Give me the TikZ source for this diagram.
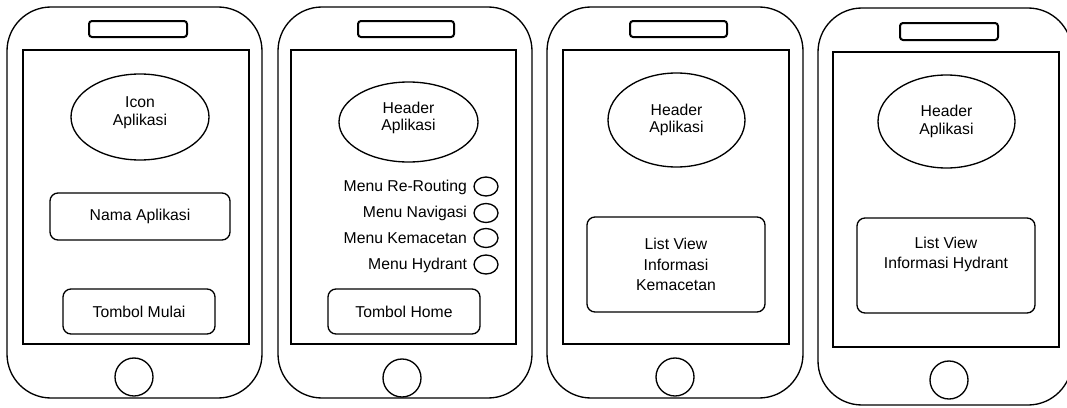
\documentclass[tikz,border=0pt]{standalone}
\usepackage{fontspec}
\setmainfont{Liberation Sans}
\usetikzlibrary{shapes.geometric}
\newdimen\pxu \pxu=0.75pt
\begin{document}
\begin{tikzpicture}[x=0.75pt,y=-0.75pt,
  every node/.style={inner sep=0pt, outer sep=0pt, font=\fontsize{11.8pt}{13pt}\selectfont, align=center},
  phonebody/.style={draw, line width=1pt, rounded corners=44*\pxu, minimum width=#1*\pxu},
  phonebody/.default=255,
  screenbox/.style={draw, line width=1.6pt, minimum height=294*\pxu},
  speaker/.style={draw, line width=1.5pt, rounded corners=3*\pxu, minimum height=16*\pxu},
  homebtn/.style={draw, circle, line width=1pt, minimum size=38*\pxu},
  elips/.style={draw, ellipse, line width=1pt},
  rbox/.style={draw, rectangle, rounded corners=8*\pxu, line width=1pt},
  menutxt/.style={anchor=east},
  radio/.style={draw, ellipse, line width=1pt, minimum width=24*\pxu, minimum height=19*\pxu}
]
\useasboundingbox (0,0) rectangle (1067,407);

% ---------- Phone 1 ----------
\node[phonebody=255, minimum height=391*\pxu] (p1) at (134.5,202.5) {};
\node[screenbox, minimum width=226*\pxu] (s1) at (136,197) {};
\node[speaker, minimum width=98*\pxu] (sp1) at (138,29) {};
\node[homebtn] (h1) at (134,377) {};
\node[elips, minimum width=138*\pxu, minimum height=86*\pxu] (e1) at (140,117) {Icon\\Aplikasi\\[-4pt]};
\node[rbox, minimum width=180*\pxu, minimum height=47*\pxu] (b1) at (140,216.5) {Nama Aplikasi};
\node[rbox, minimum width=152*\pxu, minimum height=45*\pxu] (t1) at (139,311.5) {Tombol Mulai};

% ---------- Phone 2 ----------
\node[phonebody=254, minimum height=391*\pxu] (p2) at (405,202.5) {};
\node[screenbox, minimum width=225*\pxu] (s2) at (403.5,197) {};
\node[speaker, minimum width=96*\pxu] (sp2) at (406,29) {};
\node[homebtn] (h2) at (402,378) {};
\node[elips, minimum width=139*\pxu, minimum height=80*\pxu] (e2) at (408.5,122) {Header\\Aplikasi\\[-4pt]};
\node[menutxt] (m1) at (467,187) {Menu Re-Routing};
\node[menutxt] (m2) at (467,213.5) {Menu Navigasi};
\node[menutxt] (m3) at (467,238.5) {Menu Kemacetan};
\node[menutxt] (m4) at (467,265) {Menu Hydrant};
\node[radio] (r1) at (486,186.5) {};
\node[radio] (r2) at (486,213) {};
\node[radio] (r3) at (486,238) {};
\node[radio] (r4) at (486,264.5) {};
\node[rbox, minimum width=152*\pxu, minimum height=45*\pxu] (t2) at (404,311.5) {Tombol Home};

% ---------- Phone 3 ----------
\node[phonebody=256, minimum height=391*\pxu] (p3) at (675,202.5) {};
\node[screenbox, minimum width=226*\pxu] (s3) at (676,197) {};
\node[speaker, minimum width=97*\pxu] (sp3) at (678.5,29) {};
\node[homebtn] (h3) at (675,377) {};
\node[elips, minimum width=137*\pxu, minimum height=94*\pxu] (e3) at (676.5,120) {Header\\Aplikasi};
\node[rbox, minimum width=178*\pxu, minimum height=95*\pxu, font=\fontsize{11.8pt}{15.5pt}\selectfont] (l3) at (676,264.5) {List View\\Informasi\\Kemacetan};

% ---------- Phone 4 ----------
\node[phonebody=254, minimum height=397*\pxu] (p4) at (945,206.5) {};
\node[screenbox, minimum width=226*\pxu, minimum height=295*\pxu] (s4) at (946,199.5) {};
\node[speaker, minimum width=98*\pxu, minimum height=17*\pxu] (sp4) at (949,31.5) {};
\node[homebtn] (h4) at (949,380) {};
\node[elips, minimum width=137*\pxu, minimum height=93*\pxu] (e4) at (946.5,121.5) {Header\\Aplikasi};
\node[rbox, minimum width=178*\pxu, minimum height=95*\pxu, font=\fontsize{11.8pt}{15pt}\selectfont] (l4) at (946,265.5) {List View\\Informasi Hydrant\\\strut};
\end{tikzpicture}
\end{document}
